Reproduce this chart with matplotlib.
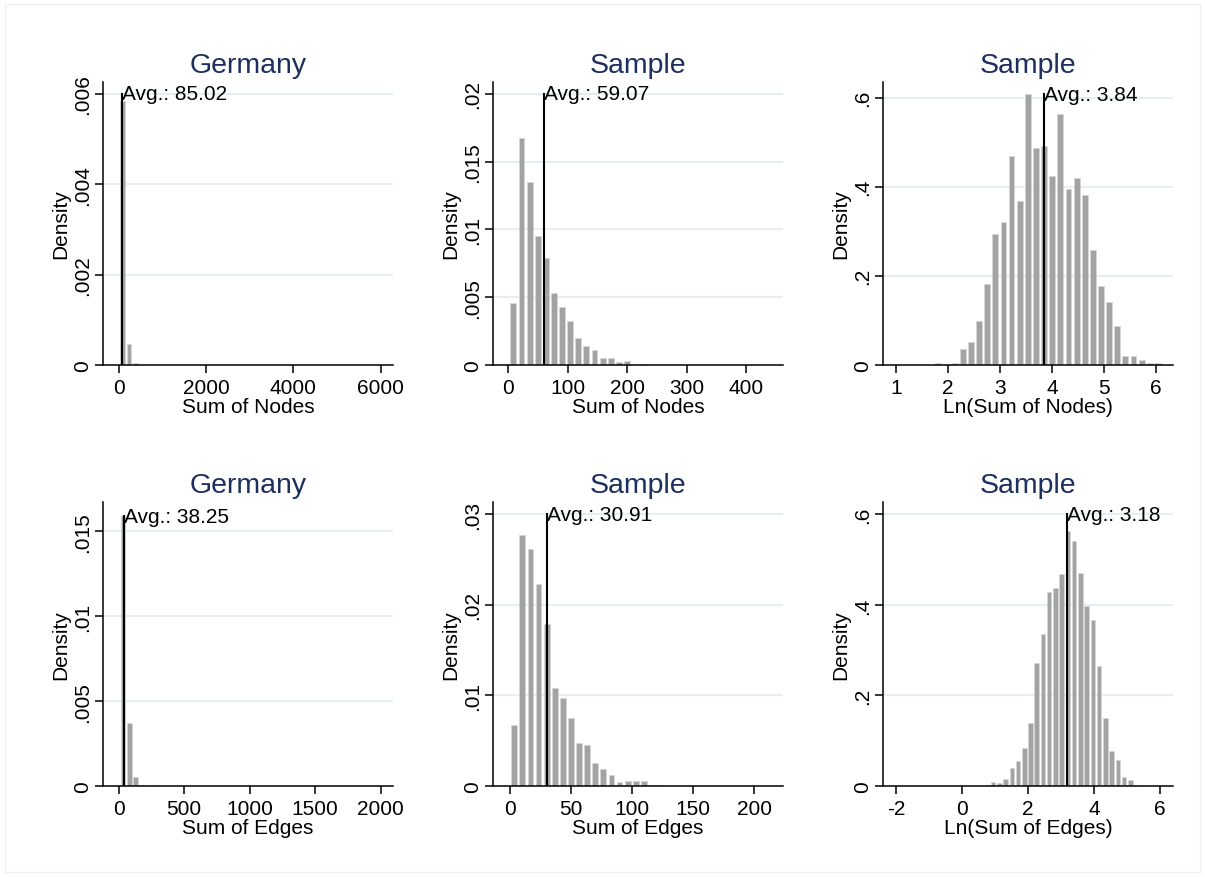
import numpy as np
import matplotlib
matplotlib.use("Agg")
import matplotlib.pyplot as plt
from matplotlib.patches import Rectangle

plt.rcParams['font.family'] = ['Liberation Sans', 'DejaVu Sans']

# Histogram data: first bin start, bin width, densities
# Germany - sum of nodes
ger_nodes_start = 40.0
ger_nodes_width = 145.0
ger_nodes_dens = [0.00583, 0.000464, 0.00004, 0.00001, 0.000006, 0.000004]
ger_nodes_mean = 85.02

# Sample - sum of nodes
smp_nodes_start = 3.4
smp_nodes_width = 13.65
smp_nodes_dens = [0.00459, 0.01673, 0.01349, 0.00951, 0.00791, 0.00528, 0.00425,
                  0.00322, 0.00197, 0.00143, 0.00111, 0.00054, 0.00054, 0.00022,
                  0.00032, 0.0, 0.00005, 0.0, 0.00002, 0.0, 0.0, 0.0, 0.0,
                  0.0, 0.0, 0.0, 0.0, 0.0, 0.0, 0.0, 0.00002]
smp_nodes_mean = 59.07

# Sample - ln(sum of nodes)
ln_nodes_start = 1.76
ln_nodes_width = 0.1564
ln_nodes_dens = [0.004, 0.0, 0.004, 0.035, 0.052, 0.099, 0.182, 0.294, 0.320,
                 0.468, 0.369, 0.607, 0.487, 0.492, 0.424, 0.563, 0.396, 0.420,
                 0.381, 0.257, 0.178, 0.142, 0.088, 0.020, 0.020, 0.011, 0.0045,
                 0.0045]
ln_nodes_mean = 3.84

# Germany - sum of edges
ger_edges_start = 15.0
ger_edges_width = 48.5
ger_edges_dens = [0.0159, 0.0037, 0.00053, 0.00008, 0.00005, 0.00003]
ger_edges_mean = 38.25

# Sample - sum of edges
smp_edges_start = 1.4
smp_edges_width = 6.63
smp_edges_dens = [0.00675, 0.02768, 0.02620, 0.02229, 0.01790, 0.01081, 0.00970,
                  0.00749, 0.00472, 0.00450, 0.00258, 0.00185, 0.00118, 0.00041,
                  0.00059, 0.00052, 0.00052, 0.00007, 0.00015, 0.0, 0.0, 0.00004,
                  0.00004, 0.00004, 0.0, 0.0, 0.00004, 0.0, 0.0, 0.0, 0.00004]
smp_edges_mean = 30.91

# Sample - ln(sum of edges)
ln_edges_start = 0.68
ln_edges_width = 0.189
ln_edges_dens = [0.002, 0.0088, 0.0059, 0.0162, 0.039, 0.0546, 0.0848, 0.140,
                 0.271, 0.336, 0.428, 0.437, 0.467, 0.562, 0.540, 0.470, 0.398,
                 0.366, 0.265, 0.150, 0.077, 0.058, 0.020, 0.0125, 0.002]
ln_edges_mean = 3.18

panels = [
    dict(title="Germany", xlabel="Sum of Nodes", start=ger_nodes_start, width=ger_nodes_width,
         dens=ger_nodes_dens, mean=ger_nodes_mean, xticks=[0, 2000, 4000, 6000],
         yticks=[0, .002, .004, .006], ylabels=["0", ".002", ".004", ".006"],
         xlim=(-360, 6280), ylim=(0, 0.00626)),
    dict(title="Sample", xlabel="Sum of Nodes", start=smp_nodes_start, width=smp_nodes_width,
         dens=smp_nodes_dens, mean=smp_nodes_mean, xticks=[0, 100, 200, 300, 400],
         yticks=[0, .005, .01, .015, .02], ylabels=["0", ".005", ".01", ".015", ".02"],
         xlim=(-26, 462), ylim=(0, 0.02086)),
    dict(title="Sample", xlabel="Ln(Sum of Nodes)", start=ln_nodes_start, width=ln_nodes_width,
         dens=ln_nodes_dens, mean=ln_nodes_mean, xticks=[1, 2, 3, 4, 5, 6],
         yticks=[0, .2, .4, .6], ylabels=["0", ".2", ".4", ".6"],
         xlim=(0.75, 6.33), ylim=(0, 0.635)),
    dict(title="Germany", xlabel="Sum of Edges", start=ger_edges_start, width=ger_edges_width,
         dens=ger_edges_dens, mean=ger_edges_mean, xticks=[0, 500, 1000, 1500, 2000],
         yticks=[0, .005, .01, .015], ylabels=["0", ".005", ".01", ".015"],
         xlim=(-120, 2094), ylim=(0, 0.01673)),
    dict(title="Sample", xlabel="Sum of Edges", start=smp_edges_start, width=smp_edges_width,
         dens=smp_edges_dens, mean=smp_edges_mean, xticks=[0, 50, 100, 150, 200],
         yticks=[0, .01, .02, .03], ylabels=["0", ".01", ".02", ".03"],
         xlim=(-13.6, 223.7), ylim=(0, 0.03136)),
    dict(title="Sample", xlabel="Ln(Sum of Edges)", start=ln_edges_start, width=ln_edges_width,
         dens=ln_edges_dens, mean=ln_edges_mean, xticks=[-2, 0, 2, 4, 6],
         yticks=[0, .2, .4, .6], ylabels=["0", ".2", ".4", ".6"],
         xlim=(-2.4, 6.39), ylim=(0, 0.627)),
]

W, H = 1205, 878
fig = plt.figure(figsize=(W / 100, H / 100), dpi=100)
fig.patches.append(Rectangle((5 / W, 5 / H), 1 - 10 / W, 1 - 10 / H, transform=fig.transFigure,
                             fill=False, edgecolor="#eef2f5", lw=1))

lefts = [103, 493, 883]
rows = [(83, 366), (503, 787)]
title_color = "#1c2f5e"
fs = 15

for i, p in enumerate(panels):
    r, c = divmod(i, 3)
    top, bot = rows[r]
    ax = fig.add_axes([lefts[c] / W, 1 - bot / H, 290 / W, (bot - top) / H])

    dens = np.array(p["dens"])
    edges = p["start"] + p["width"] * np.arange(len(dens))
    ax.bar(edges, dens, width=p["width"] * 0.72, align="edge", color="#a3a3a3",
           edgecolor="#d6d6d6", linewidth=0.6, zorder=2)

    # mean line runs up to the top of the y range (top tick or tallest bar)
    ytop = max(p["yticks"][-1], dens.max())
    ax.plot([p["mean"], p["mean"]], [0, ytop], color="black", lw=1.5, zorder=3)
    ax.text(p["mean"], ytop, f"Avg.: {p['mean']:.2f}", fontsize=fs, ha="left", va="center",
            zorder=4)

    ax.set_xlim(*p["xlim"])
    ax.set_ylim(*p["ylim"])
    ax.set_xticks(p["xticks"])
    ax.set_xticklabels([str(t) for t in p["xticks"]], fontsize=fs)
    ax.set_yticks(p["yticks"])
    ax.set_yticklabels(p["ylabels"], fontsize=fs, rotation=90, va="center")
    for t in p["yticks"][1:]:
        ax.axhline(t, color="#e6eef1", lw=1.5, zorder=1)

    for s in ["top", "right"]:
        ax.spines[s].set_visible(False)
    for s in ["left", "bottom"]:
        ax.spines[s].set_linewidth(1.1)
    ax.tick_params(axis="x", direction="out", length=6, width=1.1, pad=3.5)
    ax.tick_params(axis="y", direction="out", length=6, width=1.1, pad=2)

    ax.set_xlabel(p["xlabel"], fontsize=fs, labelpad=0)
    ax.set_ylabel("Density", fontsize=fs, labelpad=2)
    ax.set_title(p["title"], fontsize=20.5, color=title_color, pad=7)

fig.savefig("out.png", dpi=100, facecolor="white")
